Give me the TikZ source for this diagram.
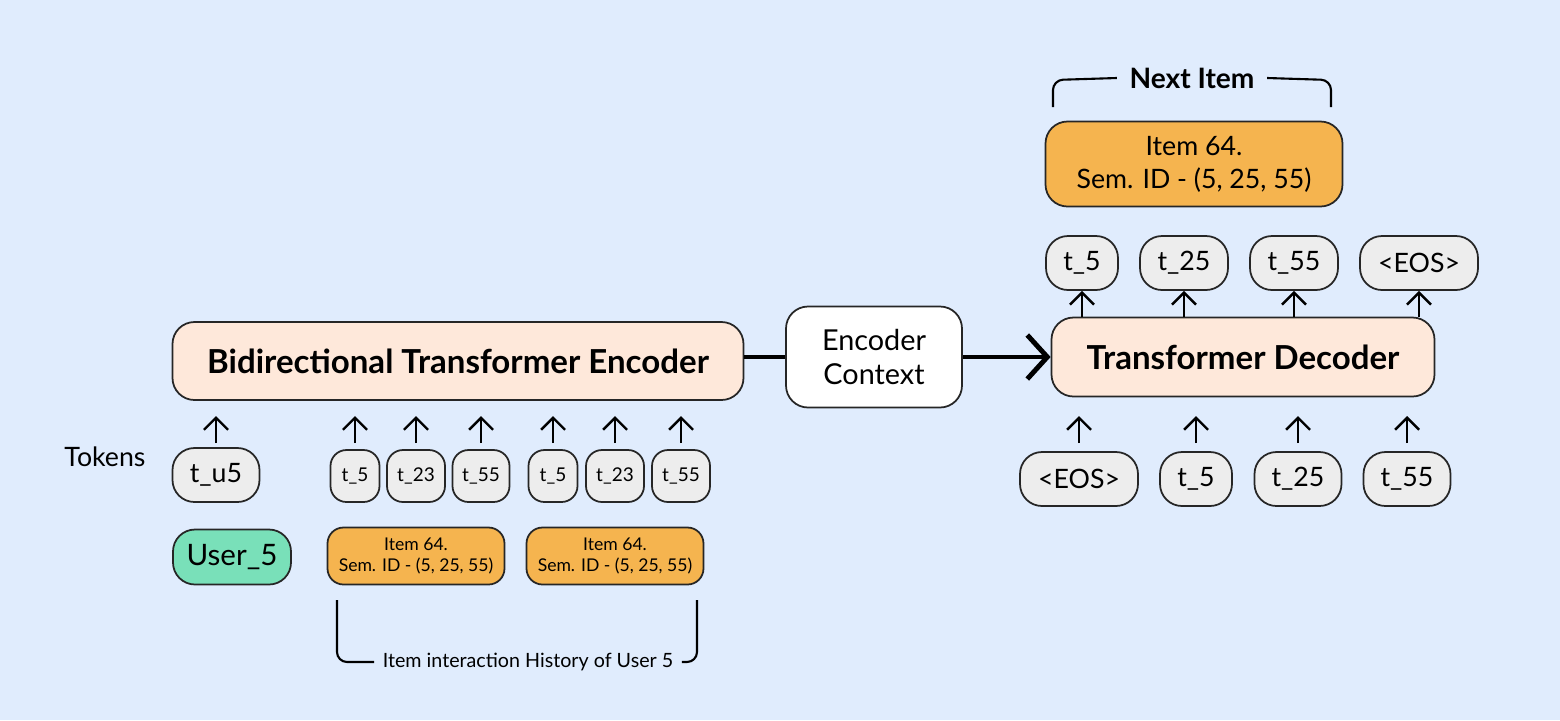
\documentclass[tikz,border=0pt]{standalone}
\usepackage{fontspec}
\setmainfont{Lato}
\usepackage{tikz}
\definecolor{bgblue}{HTML}{E0ECFD}
\definecolor{peach}{HTML}{FEE8DA}
\definecolor{itemorange}{HTML}{F5B44F}
\definecolor{tokgray}{HTML}{EDEDED}
\definecolor{usergreen}{HTML}{79E0B9}
\tikzset{
  box/.style={rectangle, rounded corners=2.2mm, draw=black!85, line width=0.5pt, align=center, inner sep=0pt},
  tok/.style={box, fill=tokgray, minimum height=5.4mm, font=\fontsize{7.6}{9}\selectfont},
  smalltok/.style={box, fill=tokgray, minimum height=5.2mm, rounded corners=1.6mm, font=\fontsize{5.4}{6}\selectfont},
  item/.style={box, fill=itemorange, rounded corners=1.6mm, minimum width=17.7mm, minimum height=5.7mm, font=\fontsize{5}{6.2}\selectfont},
  up/.style={-{Straight Barb[length=1.2mm,width=2.4mm]}, line width=0.7pt}
}
\usetikzlibrary{arrows.meta}
\begin{document}
\begin{tikzpicture}[x=0.1mm,y=-0.1mm]
\fill[bgblue] (0,0) rectangle (1560,720);

\node (enc)[box, fill=peach, minimum width=57.1mm, minimum height=7.8mm, font=\fontsize{9.4}{11}\selectfont\bfseries] at (458,361) {Bidirectional Transformer Encoder};
\node (ctx)[box, fill=white, minimum width=17.6mm, minimum height=10.1mm, font=\fontsize{8.2}{9.6}\selectfont] at (874,357) {Encoder\\Context};
\node (dec)[box, fill=peach, minimum width=38.3mm, minimum height=7.9mm, font=\fontsize{9.4}{11}\selectfont\bfseries] at (1243,357) {Transformer Decoder};

\draw[line width=1.4pt] (enc.east|-ctx) -- (ctx.west);
\draw[line width=1.4pt, -{Straight Barb[length=2mm,width=4.4mm]}] (ctx.east) -- (dec.west);

% encoder inputs
\node (lbl)[font=\fontsize{7.6}{9}\selectfont] at (105,457) {Tokens};
\node (tu5)[tok, minimum width=8.7mm] at (216,475) {t\_u5};
\node (a1)[smalltok, minimum width=4.9mm] at (355,476) {t\_5};
\node (a2)[smalltok, minimum width=5.8mm] at (416,476) {t\_23};
\node (a3)[smalltok, minimum width=5.7mm] at (481,476) {t\_55};
\node (b1)[smalltok, minimum width=4.9mm] at (553,476) {t\_5};
\node (b2)[smalltok, minimum width=5.8mm] at (615,476) {t\_23};
\node (b3)[smalltok, minimum width=5.8mm] at (681,476) {t\_55};
\foreach \n in {tu5,a1,a2,a3,b1,b2,b3}
  \draw[up] (\n.north|-0,443) -- (\n.north|-0,416);

\node (user)[box, fill=usergreen, minimum width=11.8mm, minimum height=5.5mm, font=\fontsize{8.4}{10}\selectfont] at (232,557) {User\_5};
\node (it1)[item] at (416,556) {Item 64.\\Sem. ID - (5, 25, 55)};
\node (it2)[item] at (615,556) {Item 64.\\Sem. ID - (5, 25, 55)};

\node (hist)[font=\fontsize{5.6}{6.5}\selectfont, inner sep=0.8mm] at (528,662) {Item interaction History of User 5};
\draw[line width=0.6pt, rounded corners=1mm] (337,600) -- (337,662) -- (hist.west);
\draw[line width=0.6pt, rounded corners=1mm] (697,600) -- (697,662) -- (hist.east);

% decoder
\node (next)[box, fill=itemorange, minimum width=29.7mm, minimum height=8.5mm, font=\fontsize{7.6}{9.4}\selectfont] at (1194,164) {Item 64.\\Sem. ID - (5, 25, 55)};
\node (nlbl)[font=\fontsize{8}{9.5}\selectfont\bfseries, inner sep=1.2mm] at (1192,78) {Next Item};
\draw[line width=0.6pt, rounded corners=1mm] (1053,107) -- (1053,80) -- (nlbl.west);
\draw[line width=0.6pt, rounded corners=1mm] (1331,107) -- (1331,80) -- (nlbl.east);

\node (o1)[tok, minimum width=7.2mm] at (1082,263) {t\_5};
\node (o2)[tok, minimum width=8.8mm] at (1184,263) {t\_25};
\node (o3)[tok, minimum width=8.8mm] at (1294,263) {t\_55};
\node (o4)[tok, minimum width=11.8mm] at (1419,263) {<EOS>};
\foreach \n in {o1,o2,o3,o4}
  \draw[up] (dec.north-|\n) -- (\n.south);

\node (i1)[tok, minimum width=11.8mm] at (1079,479) {<EOS>};
\node (i2)[tok, minimum width=7.2mm] at (1196,479) {t\_5};
\node (i3)[tok, minimum width=8.7mm] at (1298,479) {t\_25};
\node (i4)[tok, minimum width=8.7mm] at (1407,479) {t\_55};
\foreach \n in {i1,i2,i3,i4}
  \draw[up] (\n.north|-0,443) -- (\n.north|-0,416);
\end{tikzpicture}
\end{document}
